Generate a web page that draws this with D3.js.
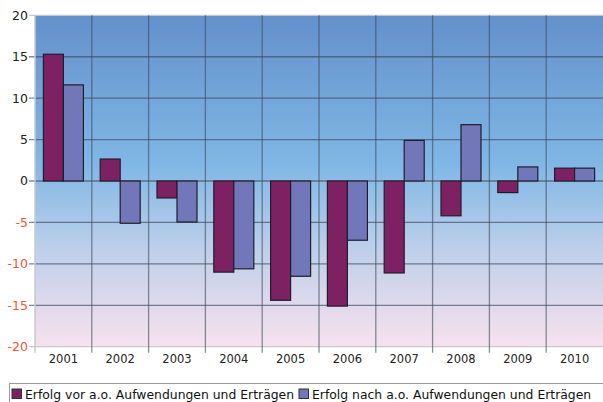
<!DOCTYPE html>
<html>
<head>
<meta charset="utf-8">
<script src="https://cdn.jsdelivr.net/npm/d3@7"></script>
<style>
  body { margin: 0; background: #fff; }
  text { font-family: "DejaVu Sans", sans-serif; }
</style>
</head>
<body>
<svg width="603" height="402"></svg>
<script>
var years = ["2001","2002","2003","2004","2005","2006","2007","2008","2009","2010"];
var vorAO = [15.3, 2.65, -2.05, -11.0, -14.4, -15.1, -11.1, -4.2, -1.4, 1.55];
var nachAO = [11.6, -5.1, -4.95, -10.6, -11.5, -7.15, 4.9, 6.8, 1.7, 1.55];
var seriesNames = ["Erfolg vor a.o. Aufwendungen und Erträgen", "Erfolg nach a.o. Aufwendungen und Erträgen"];
var yTicks = [20, 15, 10, 5, 0, -5, -10, -15, -20];

var svg = d3.select("svg"),
    width = +svg.attr("width"),
    height = +svg.attr("height");

var plotL = 35, plotR = 603, plotT = 15.3, plotB = 346.7;

var x = d3.scaleBand().domain(years).range([plotL, plotR]);
var x1 = d3.scaleBand().domain([0, 1]).range([0, 40]);
var y = d3.scaleLinear().domain([-20, 20]).range([plotB, plotT]);
var colors = ["#7d2163", "#7177b9"];

// background gradient
var grad = svg.append("defs").append("linearGradient")
    .attr("id", "bg").attr("x1", 0).attr("y1", 0).attr("x2", 0).attr("y2", 1);
grad.append("stop").attr("offset", "0%").attr("stop-color", "#6490cb");
grad.append("stop").attr("offset", "45%").attr("stop-color", "#80b7e5");
grad.append("stop").attr("offset", "70%").attr("stop-color", "#bccfea");
grad.append("stop").attr("offset", "100%").attr("stop-color", "#f8e2ee");

svg.append("rect")
    .attr("x", plotL).attr("y", plotT)
    .attr("width", plotR - plotL).attr("height", plotB - plotT)
    .attr("fill", "url(#bg)");

// grid
svg.append("g")
  .selectAll("line")
  .data(yTicks)
  .enter().append("line")
    .attr("x1", plotL - 6).attr("x2", plotR)
    .attr("y1", function(d){ return y(d) }).attr("y2", function(d){ return y(d) })
    .attr("stroke", function(d){ return (d == 20 || d == -20) ? "#c8c8c8" : "#3e4858" })
    .attr("stroke-opacity", function(d){ return (d == 20 || d == -20) ? 1 : 0.65 })
    .attr("stroke-width", 1.3)

svg.append("g")
  .selectAll("line")
  .data(years.slice(1))
  .enter().append("line")
    .attr("x1", function(d){ return x(d) }).attr("x2", function(d){ return x(d) })
    .attr("y1", plotT).attr("y2", plotB + 6)
    .attr("stroke", "#3e4858")
    .attr("stroke-opacity", 0.6)
    .attr("stroke-width", 1.3)

svg.append("line")
    .attr("x1", plotL).attr("x2", plotL).attr("y1", plotT).attr("y2", plotB + 6)
    .attr("stroke", "#c8c8c8").attr("stroke-width", 1.5)

// y labels
svg.append("g")
  .selectAll("text")
  .data(yTicks)
  .enter().append("text")
    .attr("x", plotL - 7)
    .attr("y", function(d){ return y(d) })
    .attr("dy", "0.35em")
    .attr("text-anchor", "end")
    .attr("font-size", 12.5)
    .attr("fill", function(d){ return d < 0 ? "#f2563a" : "#222" })
    .text(function(d){ return d })

// x labels
svg.append("g")
  .selectAll("text")
  .data(years)
  .enter().append("text")
    .attr("x", function(d){ return x(d) + x.bandwidth() / 2 })
    .attr("y", 363)
    .attr("text-anchor", "middle")
    .attr("font-size", 11.5)
    .attr("fill", "#222")
    .text(function(d){ return d })

// bars
var rows = years.map(function(yr, i){ return { year: yr, vals: [vorAO[i], nachAO[i]] } });
var groups = svg.append("g")
  .selectAll("g")
  .data(rows)
  .enter().append("g")
    .attr("transform", function(d){ return "translate(" + (x(d.year) + (x.bandwidth() - 40) / 2) + ",0)" });

groups.selectAll("rect")
  .data(function(d){ return d.vals })
  .enter().append("rect")
    .attr("x", function(d, i){ return x1(i) })
    .attr("width", x1.bandwidth())
    .attr("y", function(d){ return y(Math.max(0, d)) })
    .attr("height", function(d){ return Math.abs(y(d) - y(0)) })
    .attr("fill", function(d, i){ return colors[i] })
    .attr("stroke", "#1e1e2a")
    .attr("stroke-width", 1.2)

// legend
svg.append("rect")
    .attr("x", 9.5).attr("y", 383.5).attr("width", 600).attr("height", 30)
    .attr("fill", "#fff").attr("stroke", "#999").attr("stroke-width", 1)

var legX = [12, 299];
seriesNames.forEach(function(name, i){
  svg.append("rect")
      .attr("x", legX[i]).attr("y", 389).attr("width", 9.5).attr("height", 9.5)
      .attr("fill", colors[i]).attr("stroke", "#333").attr("stroke-width", 1)
  svg.append("text")
      .attr("x", legX[i] + 13).attr("y", 398.5)
      .attr("font-size", 12.4)
      .attr("fill", "#111")
      .text(name)
});
</script>
</body>
</html>
